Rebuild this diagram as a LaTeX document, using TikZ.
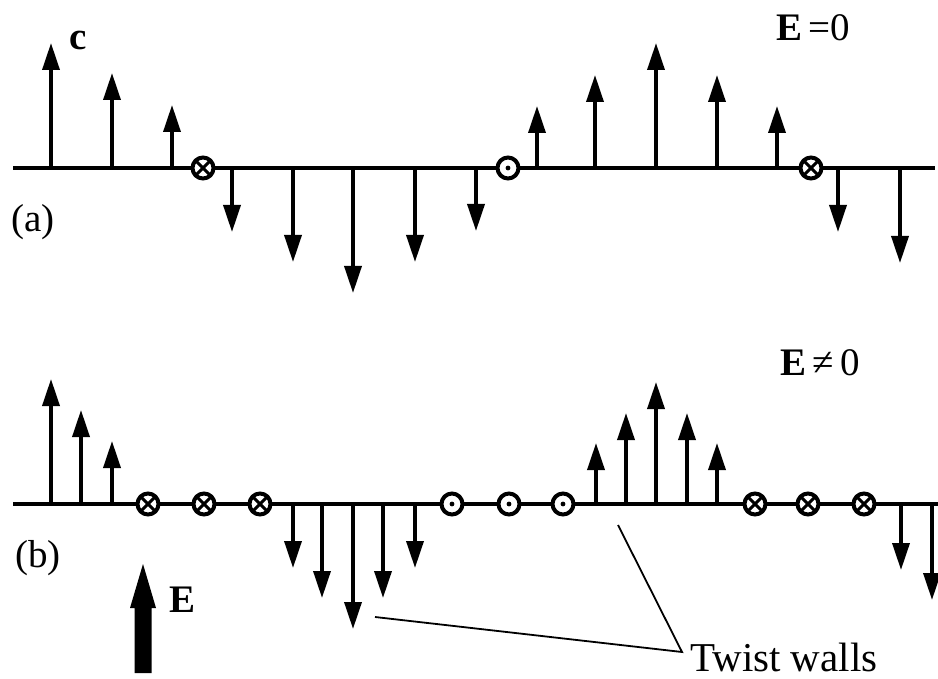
\documentclass[tikz,border=0pt]{standalone}
\usepackage{fontspec}
\setmainfont{Liberation Serif}
\usetikzlibrary{arrows.meta}
\begin{document}
\begin{tikzpicture}[x=1pt,y=-1pt,
  axis/.style={line width=4pt},
  vec/.style={line width=3.5pt,-{Triangle[width=17pt,length=27pt]}},
  wall/.style={circle,draw,line width=4pt,fill=white,minimum size=21pt,inner sep=0pt},
  wallin/.style={wall,path picture={
      \draw[black,line width=3pt] (path picture bounding box.north east) -- (path picture bounding box.south west)
                                  (path picture bounding box.north west) -- (path picture bounding box.south east);}},
  wallout/.style={wall,path picture={\fill[black] (path picture bounding box.center) circle (2.4pt);}},
  lbl/.style={font=\fontsize{39}{45}\selectfont},
  leader/.style={line width=1.8pt}]
\useasboundingbox (0,0) rectangle (938,679);

% ---------- (a) E = 0 ----------
\draw[axis] (13,168) -- (935,168);
\foreach \x/\t in {51/43,112/73,172/105,
                   232/232,293/262,353/293,415/262,476/231,
                   537/106,595/75,656/43,717/75,777/106,
                   838/232,900/263}
  \draw[vec] (\x,168) -- (\x,\t);
\node[wallin]  (a1) at (203,168) {};
\node[wallout] (a2) at (508,168) {};
\node[wallin]  (a3) at (811,168) {};

\node[lbl] (c)  at (78,40) {\textbf{c}};
\node[lbl] (e0) at (813,28) {\textbf{E}\,=0};
\node[lbl] (pa) at (33,222) {(a)};

% ---------- (b) E != 0 ----------
\draw[axis] (13,504) -- (938,504);
\foreach \x/\t in {51/379,81/410,112/441,
                   293/568,322/598,353/629,383/598,415/568,
                   596/443,626/413,656/382,687/413,717/443,
                   901/570,932/600}
  \draw[vec] (\x,504) -- (\x,\t);
\foreach \x [count=\i] in {148,204,260}
  \node[wallin] (b\i) at (\x,504) {};
\foreach \x [count=\i from 4] in {452,509,563}
  \node[wallout] (b\i) at (\x,504) {};
\foreach \x [count=\i from 7] in {755,808,864}
  \node[wallin] (b\i) at (\x,504) {};

\node[lbl] (ene) at (820,363) {\textbf{E}\,≠\,0};
\node[lbl] (pb)  at (38,558) {(b)};

% applied field
\fill (134.5,673) -- (134.5,608) -- (130,608) -- (143,564) -- (156,608) -- (151.5,608) -- (151.5,673) -- cycle;
\node[lbl] (ef) at (183,600) {\textbf{E}};

% twist-wall callout
\node[font=\fontsize{41}{46}\selectfont,anchor=base west,inner sep=0pt] (tw) at (690,671) {Twist walls};
\coordinate (join) at (682,652);
\coordinate (w1) at (375,617);
\coordinate (w2) at (618,525);
\draw[leader] (w1) -- (join) -- (w2);
\end{tikzpicture}
\end{document}
